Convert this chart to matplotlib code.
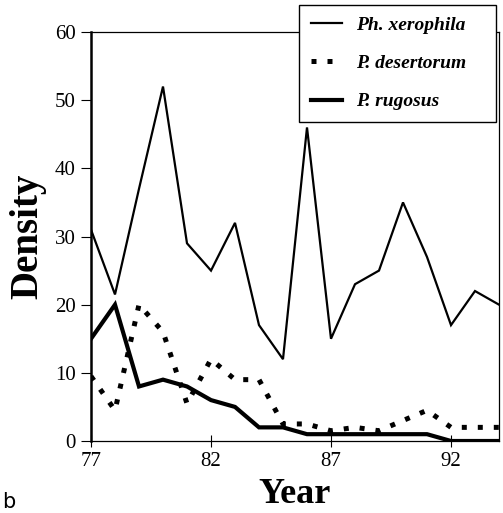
import matplotlib
matplotlib.use("Agg")
import matplotlib.pyplot as plt

# Yearly density of three species, 1977-1994
years = list(range(77, 95))
ph_xerophila = [31, 21.5, 37, 52, 29, 25, 32, 17, 12, 46, 15, 23, 25, 35, 27, 17, 22, 20]
p_desertorum = [9.5, 4.5, 20, 16, 5.5, 12, 9, 9, 2.5, 2.5, 1.5, 2, 1.5, 3, 4.5, 2, 2, 2]
p_rugosus = [15, 20, 8, 9, 8, 6, 5, 2, 2, 1, 1, 1, 1, 1, 1, 0, 0, 0]

x_ticks = [77, 82, 87, 92]
y_ticks = [0, 10, 20, 30, 40, 50, 60]
series_names = ["Ph. xerophila", "P. desertorum", "P. rugosus"]

plt.rcParams["font.family"] = ["Liberation Serif", "DejaVu Serif"]

fig = plt.figure(figsize=(5.03, 5.13), dpi=100)
ax = fig.add_axes([91 / 503, 72 / 513, 408 / 503, 409 / 513])

l1, = ax.plot(years, ph_xerophila, color="black", lw=1.6, solid_joinstyle="miter")
l2, = ax.plot(years, p_desertorum, color="black", lw=3.6,
              linestyle=(0, (1, 2.2)), dash_capstyle="butt")
l3, = ax.plot(years, p_rugosus, color="black", lw=3.0, solid_joinstyle="miter")

ax.set_xlim(77, 94)
ax.set_ylim(0, 60)
ax.set_xticks(x_ticks)
ax.set_yticks(y_ticks)
ax.tick_params(axis="both", labelsize=15, width=0.8, color="black")
ax.tick_params(axis="y", direction="out", length=7, pad=4)
ax.tick_params(axis="x", direction="inout", length=8, pad=4)

for side in ("top", "right", "bottom"):
    ax.spines[side].set_linewidth(0.9)
ax.spines["left"].set_linewidth(1.8)

ax.set_xlabel("Year", fontsize=26, fontweight="bold", labelpad=5)
ax.set_ylabel("Density", fontsize=28, fontweight="bold")
ax.yaxis.set_label_coords(-0.11, 0.5)

# Legend box spans a fixed width in figure coordinates
leg = fig.legend([l1, l2, l3], series_names,
                 loc="upper left",
                 bbox_to_anchor=(299 / 503, 1 - 122 / 513, 197 / 503, 117 / 513),
                 mode="expand",
                 prop={"style": "italic", "weight": "bold", "size": 14},
                 frameon=True, fancybox=False, edgecolor="black",
                 framealpha=1, handlelength=1.6, handletextpad=0.75,
                 labelspacing=1.05, borderpad=0.6, borderaxespad=0)
leg.get_frame().set_linewidth(1.0)

fig.text(2 / 503, 1 / 513, "b", fontsize=15, family="DejaVu Sans",
         ha="left", va="bottom")

fig.savefig("out.png", dpi=100)
